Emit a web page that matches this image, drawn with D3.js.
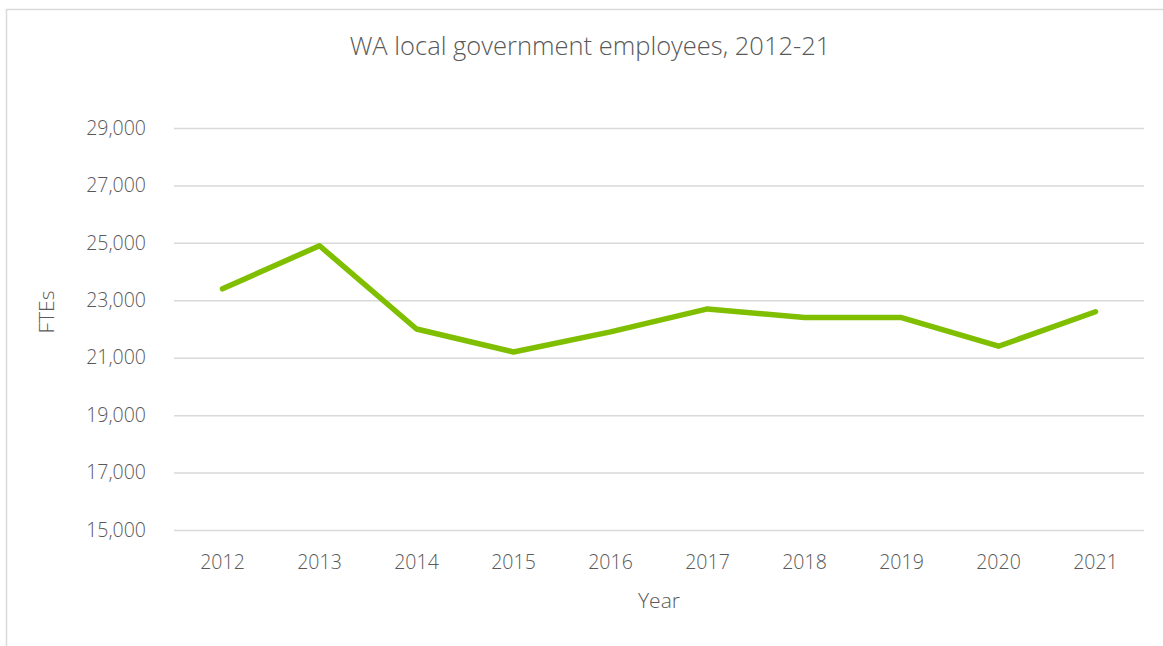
<!DOCTYPE html>
<html>
<head>
<meta charset="utf-8">
<script src="https://cdn.jsdelivr.net/npm/d3@7"></script>
<style>
  html, body { margin: 0; padding: 0; background: #fff; }
  svg { display: block; }
  text { font-family: "Open Sans", "Noto Sans", sans-serif; font-weight: 300; fill: #595959; }
</style>
</head>
<body>
<svg id="chart" width="1163" height="646"></svg>
<script>
// WA local government FTEs by year
const years = ["2012", "2013", "2014", "2015", "2016", "2017", "2018", "2019", "2020", "2021"];
const ftes = [23400, 24900, 22000, 21200, 21900, 22700, 22400, 22400, 21400, 22600];
const yTicks = [15000, 17000, 19000, 21000, 23000, 25000, 27000, 29000];

const svg = d3.select("#chart");
const W = 1163, H = 646;
const margin = { left: 174, right: 19, top: 128, bottom: 116 };

// chart area frame (runs off the right and bottom edges)
svg.append("rect")
  .attr("x", 6.5).attr("y", 9.5)
  .attr("width", W + 20).attr("height", H + 20)
  .attr("fill", "none").attr("stroke", "#d9d9d9").attr("stroke-width", 1.5);

const x = d3.scaleBand().domain(years).range([margin.left, W - margin.right]);
const y = d3.scaleLinear().domain([15000, 29000]).range([H - margin.bottom, margin.top]);

// gridlines
const yAxis = d3.axisLeft(y).tickValues(yTicks)
  .tickSize(-(W - margin.left - margin.right))
  .tickPadding(28)
  .tickFormat(d3.format(","));
const gy = svg.append("g").attr("transform", `translate(${margin.left},0)`).call(yAxis);
gy.select(".domain").remove();
gy.selectAll(".tick line").attr("stroke", "#d9d9d9").attr("stroke-width", 1.5);
gy.selectAll(".tick text").attr("font-size", 19.5).attr("fill", "#595959")
  .style("font-family", "'Open Sans', sans-serif").style("font-weight", 300);

// x axis labels
const xAxis = d3.axisBottom(x).tickSize(0).tickPadding(25);
const gx = svg.append("g").attr("transform", `translate(0,${H - margin.bottom})`).call(xAxis);
gx.select(".domain").remove();
gx.selectAll(".tick text").attr("font-size", 19.5).attr("fill", "#595959")
  .style("font-family", "'Open Sans', sans-serif").style("font-weight", 300);

// series line
const line = d3.line()
  .x((d, i) => x(years[i]) + x.bandwidth() / 2)
  .y(d => y(d));
svg.append("path")
  .datum(ftes)
  .attr("d", line)
  .attr("fill", "none")
  .attr("stroke", "#7fbf00")
  .attr("stroke-width", 5.5)
  .attr("stroke-linejoin", "round")
  .attr("stroke-linecap", "round");

// title
svg.append("text")
  .attr("x", 590).attr("y", 55)
  .attr("text-anchor", "middle")
  .attr("font-size", 25.5)
  .text("WA local government employees, 2012-21");

// axis titles
svg.append("text")
  .attr("x", (margin.left + W - margin.right) / 2).attr("y", 608)
  .attr("text-anchor", "middle")
  .attr("font-size", 21)
  .text("Year");

svg.append("text")
  .attr("transform", "translate(54,312) rotate(-90)")
  .attr("text-anchor", "middle")
  .attr("font-size", 21)
  .text("FTEs");
</script>
</body>
</html>
